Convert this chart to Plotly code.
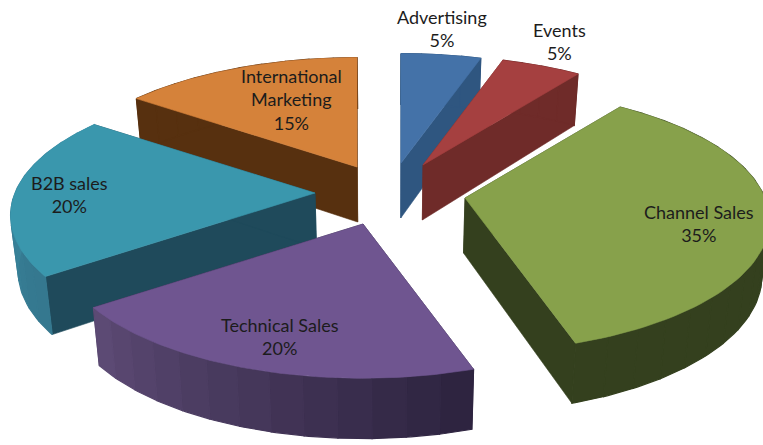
import numpy as np
import plotly.graph_objects as go

# Clockwise from 12 o'clock
categories = ["Advertising", "Events", "Channel Sales", "Technical Sales", "B2B sales", "International<br>Marketing"]
shares = [5, 5, 35, 20, 20, 15]

# styling per slice, same order
top_colors = ["#4472a8", "#a54040", "#87a14b", "#6f5590", "#3a97ad", "#d5823a"]
face_colors = ["#2f5680", "#6f2b29", "#34401e", "#2f2541", "#1f4a5b", "#57300f"]
wall_from = ["#2f5680", "#6f2b29", "#34401e", "#2e2440", "#35788f", "#57300f"]
wall_to = ["#2f5680", "#6f2b29", "#34401e", "#5c4a74", "#3d8ea6", "#57300f"]
apex_x = [401, 423, 465, 363, 315, 357]
apex_y = [163, 165, 198, 224, 193, 167]
label_x = [442, 559, 699, 280, 69, 291]
label_y = [28, 41, 223, 336, 194, 99]
draw_order = [0, 1, 5, 4, 2, 3]

RX, RY = 300, 128
PERSPECTIVE = 0.17
DEPTH = 55
LEAN_CENTER, LEAN = 390, 0.98


def project(deg, ax, ay):
    # disc point at this angle -> picture position, back of the disc is smaller
    rad = np.radians(deg)
    s = 1 / (1 + PERSPECTIVE * np.cos(rad))
    return ax + RX * np.sin(rad) * s, ay - RY * np.cos(rad) * s, s


def drop(x, y, s):
    # same point on the underside of the slice
    return LEAN_CENTER + (x - LEAN_CENTER) * LEAN, y + DEPTH * s ** 0.5


def mix(c1, c2, t):
    a = [int(c1[i:i + 2], 16) for i in (1, 3, 5)]
    b = [int(c2[i:i + 2], 16) for i in (1, 3, 5)]
    return "rgb(%d,%d,%d)" % tuple(a[i] + (b[i] - a[i]) * t for i in range(3))


def poly(fig, xs, ys, color, width=0.6):
    fig.add_trace(go.Scatter(x=xs, y=ys, mode="lines", fill="toself", fillcolor=color,
                             line=dict(color=color, width=width), hoverinfo="skip", showlegend=False))


ends = np.cumsum(shares) * 360 / sum(shares)
starts = np.concatenate([[0], ends[:-1]])

fig = go.Figure()

for i in draw_order:
    ax, ay = apex_x[i], apex_y[i]
    ax2, ay2 = drop(ax, ay, 1)

    # the two cut faces
    for deg in (starts[i], ends[i]):
        x, y, s = project(deg, ax, ay)
        x2, y2 = drop(x, y, s)
        poly(fig, [ax, x, x2, ax2, ax], [ay, y, y2, ay2, ay], face_colors[i])

    # outer wall, in strips so the shading can run along it
    angles = np.linspace(starts[i], ends[i], int(shares[i] * 0.6) + 2)
    for j in range(len(angles) - 1):
        sub = np.linspace(angles[j], angles[j + 1], 8)
        tx, ty, ts = project(sub, ax, ay)
        bx, by = drop(tx, ty, ts)
        t = j / max(len(angles) - 2, 1)
        poly(fig, [*tx, *bx[::-1], tx[0]], [*ty, *by[::-1], ty[0]], mix(wall_from[i], wall_to[i], t), width=1.2)

    # top surface
    arc = np.linspace(starts[i], ends[i], 80)
    px, py, _ = project(arc, ax, ay)
    poly(fig, [ax, *px, ax], [ay, *py, ay], top_colors[i])

for i, cat in enumerate(categories):
    fig.add_annotation(x=label_x[i], y=label_y[i], text=f"{cat}<br>{shares[i]}%", showarrow=False,
                       font=dict(family="Lato", size=18, color="#1c1c1c"), align="center")

fig.update_xaxes(range=[0, 763], visible=False)
fig.update_yaxes(range=[445, 0], visible=False)
fig.update_layout(width=763, height=445, margin=dict(l=0, r=0, t=0, b=0),
                  paper_bgcolor="white", plot_bgcolor="white", showlegend=False)

fig.write_html("out.html", post_script="document.body.style.margin = '0';",
               config={"displayModeBar": False})
